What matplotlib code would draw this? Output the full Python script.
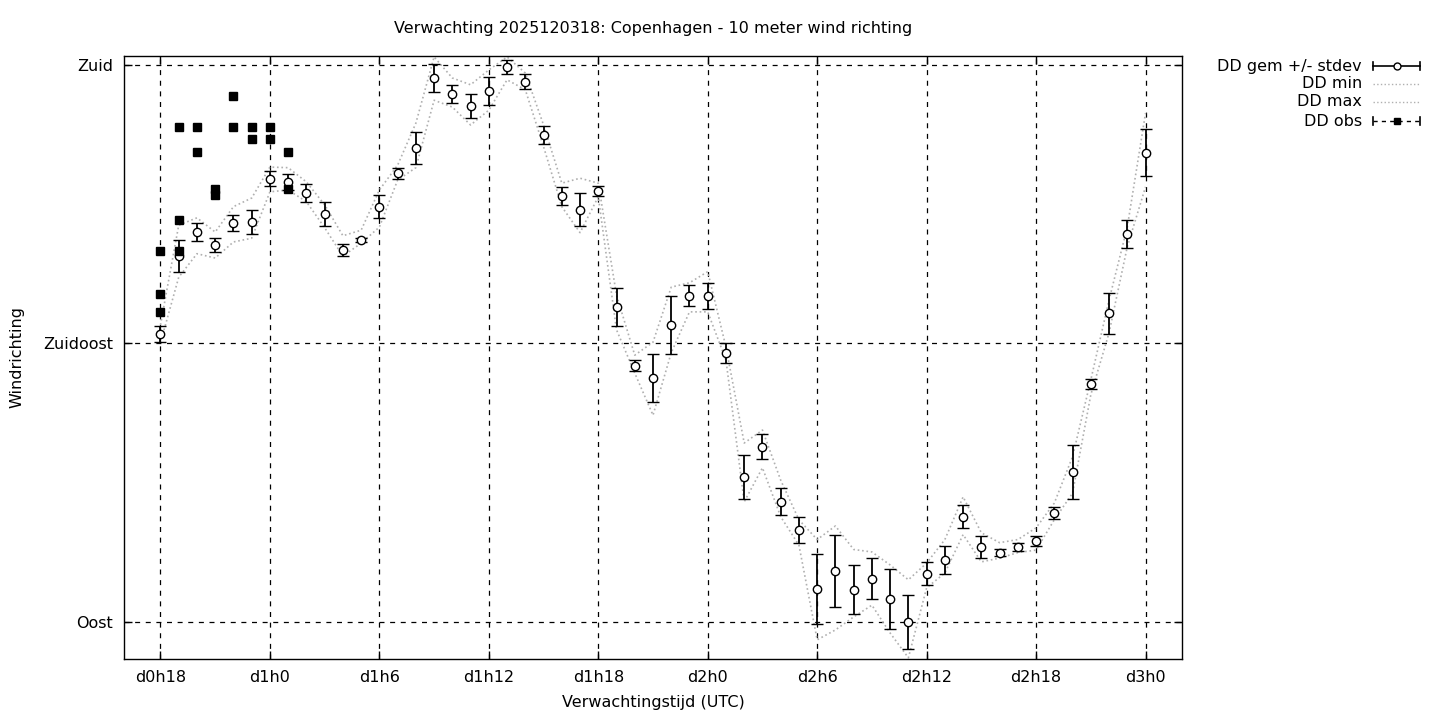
import matplotlib
matplotlib.use('Agg')
import matplotlib.pyplot as plt
from matplotlib.lines import Line2D

# forecast hours since d0h0
hours = list(range(18, 73))
dd_mean = [136.5, 149.1, 153.0, 150.9, 154.5, 154.6, 161.6, 161.1, 159.3, 155.9,
           150.1, 151.7, 157.1, 162.5, 166.6, 177.9, 175.3, 173.4, 175.8, 179.7,
           177.3, 168.7, 158.8, 156.6, 159.6, 140.9, 131.4, 129.4, 138.0, 142.7,
           142.7, 133.5, 113.4, 118.3, 109.4, 104.9, 95.3, 98.2, 95.2, 97.0,
           93.7, 90.0, 97.8, 100.0, 107.0, 102.1, 101.2, 102.1, 103.1, 107.6,
           114.2, 128.5, 139.9, 152.7, 165.8]
dd_sd = [1.3, 2.6, 1.5, 1.2, 1.3, 1.9, 1.2, 1.3, 1.4, 1.9,
         1.0, 0.3, 1.9, 0.9, 2.6, 2.3, 1.5, 1.9, 2.3, 1.1,
         1.2, 1.4, 1.4, 2.7, 0.8, 3.1, 0.9, 3.9, 4.7, 1.7,
         2.1, 1.6, 3.5, 2.0, 2.2, 2.1, 5.7, 5.8, 4.0, 3.3,
         4.9, 4.4, 1.9, 2.2, 1.9, 1.7, 0.5, 0.6, 0.8, 1.0,
         4.4, 0.8, 3.3, 2.3, 3.8]
dd_max = [138.0, 154.1, 155.3, 153.0, 157.1, 158.5, 163.5, 163.4, 161.1, 157.4,
          152.4, 153.3, 159.8, 163.8, 170.6, 181.3, 177.9, 176.8, 179.2, 181.3,
          178.7, 170.3, 160.9, 161.7, 160.9, 142.8, 133.1, 135.2, 144.1, 144.8,
          146.6, 134.4, 118.9, 121.0, 112.9, 106.5, 103.3, 105.5, 101.7, 101.3,
          99.2, 96.8, 99.5, 103.3, 110.2, 104.4, 102.8, 103.3, 105.2, 109.2,
          116.7, 129.1, 142.0, 153.8, 172.2]
dd_min = [135.1, 145.7, 149.5, 148.8, 151.4, 152.0, 159.5, 159.8, 157.9, 153.7,
          149.1, 151.2, 153.8, 161.4, 163.4, 174.3, 173.2, 170.3, 172.7, 177.6,
          176.0, 166.8, 157.1, 152.9, 158.7, 137.2, 130.2, 123.4, 133.5, 140.1,
          140.1, 132.3, 109.4, 114.9, 107.0, 102.4, 87.1, 88.7, 90.8, 92.7,
          88.2, 84.2, 95.5, 97.9, 104.1, 99.7, 100.3, 101.2, 101.6, 106.5,
          110.8, 126.7, 136.7, 150.6, 160.3]

obs_hours = [18, 18, 18, 19, 19, 19, 20, 20, 21, 21, 22, 22, 23, 23, 24, 24, 25, 25]
obs_dd = [150, 143, 140, 170, 155, 150, 170, 166, 160, 159, 175, 170, 170, 168, 170, 168, 166, 160]

xticks = list(range(18, 73, 6))
ytick_vals = [90, 135, 180]
ytick_labels = ['Oost', 'Zuidoost', 'Zuid']

plt.rcParams['font.family'] = 'DejaVu Sans'
fs = 11.5

fig = plt.figure(figsize=(14.4, 7.2), dpi=100)
ax = fig.add_axes([124/1440, 1 - 659/720, (1182-124)/1440, (659-56)/720])

ax.plot(hours, dd_min, color='#b0b0b0', ls=':', lw=1.2, zorder=2)
ax.plot(hours, dd_max, color='#b0b0b0', ls=':', lw=1.2, zorder=2)
ax.errorbar(hours, dd_mean, yerr=dd_sd, fmt='o', color='black', mfc='white', mec='black',
            ms=6, mew=1.0, elinewidth=1.3, capsize=4, capthick=1.3, zorder=4)
ax.errorbar(obs_hours, obs_dd, xerr=0.2, fmt='s', color='black', ms=5.5,
            elinewidth=1.0, capsize=0, zorder=5)

ax.set_xlim(16, 74)
ax.set_ylim(84, 181.45)
ax.set_xticks(xticks)
ax.set_xticklabels(['d%dh%d' % (h // 24, h % 24) for h in xticks])
ax.set_yticks(ytick_vals)
ax.set_yticklabels(ytick_labels)
ax.tick_params(direction='in', length=6, width=1, top=True, right=True,
               labelsize=fs, pad=8)
ax.grid(True, color='black', ls=(0, (4, 4.5)), lw=0.9)
for s in ax.spines.values():
    s.set_linewidth(1)

ax.set_xlabel('Verwachtingstijd (UTC)', fontsize=fs, labelpad=7)
ax.set_ylabel('Windrichting', fontsize=fs, labelpad=13)
fig.text(653/1440, 1 - 29/720, 'Verwachting 2025120318: Copenhagen - 10 meter wind richting',
         ha='center', va='center', fontsize=fs)

# legend drawn by hand, gnuplot style
labels = ['DD gem +/- stdev', 'DD min', 'DD max', 'DD obs']
rows = [66, 84, 102, 121]
x0, x1 = 1373 / 1440, 1420 / 1440
xm = (x0 + x1) / 2
cap = 4 / 720
for lab, py in zip(labels, rows):
    y = 1 - py / 720
    fig.text(1362 / 1440, y, lab, ha='right', va='center', fontsize=fs)
    if lab.startswith('DD gem'):
        fig.add_artist(Line2D([x0, x1], [y, y], color='black', lw=1.2))
        for xx in (x0, x1):
            fig.add_artist(Line2D([xx, xx], [y - cap, y + cap], color='black', lw=1.2))
        fig.add_artist(Line2D([xm], [y], marker='o', ms=5, mfc='white', mec='black', mew=1))
    elif lab == 'DD obs':
        fig.add_artist(Line2D([x0, x1], [y, y], color='black', lw=1.0, ls=(0, (3, 3))))
        for xx in (x0, x1):
            fig.add_artist(Line2D([xx, xx], [y - cap, y + cap], color='black', lw=1.2))
        fig.add_artist(Line2D([xm], [y], marker='s', ms=5, color='black'))
    else:
        fig.add_artist(Line2D([x0, x1], [y, y], color='#b0b0b0', lw=1.0, ls=':'))

fig.savefig('out.png', dpi=100)
